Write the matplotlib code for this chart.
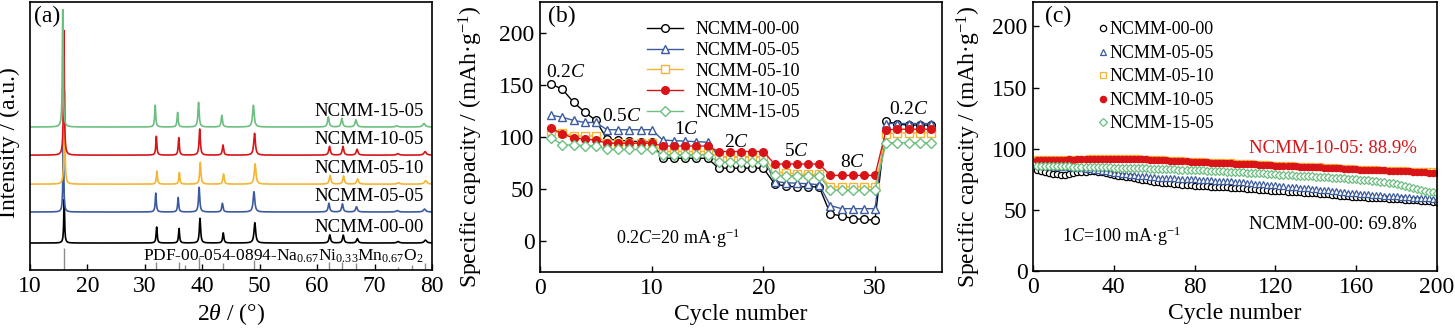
import matplotlib
matplotlib.use('Agg')
import matplotlib.pyplot as plt
import numpy as np

plt.rcParams['font.family'] = ['Liberation Serif', 'DejaVu Serif']
plt.rcParams['mathtext.fontset'] = 'custom'
plt.rcParams['mathtext.rm'] = 'Liberation Serif'
plt.rcParams['mathtext.it'] = 'Liberation Serif:italic'
plt.rcParams['mathtext.bf'] = 'Liberation Serif:bold'
plt.rcParams['axes.linewidth'] = 1.2

names = ['NCMM-00-00', 'NCMM-05-05', 'NCMM-05-10', 'NCMM-10-05', 'NCMM-15-05']
colors = ['#000000', '#3b5b9e', '#f5b533', '#d81418', '#6cbf80']
markers = ['o', '^', 's', 'o', 'D']
filled = [False, False, False, True, False]

# ---- (a) XRD: peak positions / heights
peak_pos = [15.95, 32.05, 35.95, 39.6, 43.65, 49.15, 62.2, 64.55, 67.0, 74.1, 78.85]
peak_width = [0.09, 0.11, 0.11, 0.13, 0.13, 0.17, 0.16, 0.16, 0.18, 0.25, 0.25]
xrd_heights = {
    'NCMM-00-00': [1.5, 0.55, 0.50, 0.85, 0.35, 0.70, 0.28, 0.27, 0.15, 0.05, 0.10],
    'NCMM-05-05': [2.3, 0.65, 0.50, 0.85, 0.30, 0.70, 0.30, 0.28, 0.18, 0.05, 0.10],
    'NCMM-05-10': [3.2, 0.45, 0.40, 0.75, 0.35, 0.70, 0.30, 0.28, 0.18, 0.05, 0.12],
    'NCMM-10-05': [4.3, 0.65, 0.60, 0.90, 0.35, 0.75, 0.30, 0.30, 0.20, 0.05, 0.12],
    'NCMM-15-05': [4.05, 0.75, 0.50, 0.85, 0.40, 0.75, 0.35, 0.30, 0.25, 0.04, 0.12],
}
xrd_shift = [0.0, -0.15, 0.05, -0.05, -0.25]
xrd_offset = [0.0, 1.07, 2.03, 3.03, 4.0]
pdf_pos = [15.9, 31.9, 35.9, 37.0, 39.5, 43.6, 49.0, 62.0, 64.4, 66.8, 74.1, 76.5, 78.8]
pdf_h = [0.76, 0.28, 0.28, 0.17, 0.45, 0.23, 0.34, 0.28, 0.28, 0.23, 0.12, 0.17, 0.23]

# ---- (b) rate performance
cycles_b = np.arange(1, 36)
rate = {
    'NCMM-00-00': [151, 146, 133.5, 124, 116, 98, 97, 96, 95.5, 95,
                   79.5, 79.5, 79.5, 79.5, 79.5, 70, 70, 70, 70, 70,
                   55, 52.5, 52, 52, 52, 26, 24, 21.5, 20.6, 20,
                   115, 112.5, 111.5, 111.5, 111.5],
    'NCMM-05-05': [121, 119, 116, 114, 114, 107, 107, 107, 107, 107,
                   97, 96.5, 96, 95.5, 95, 81, 81, 81, 81, 81,
                   57, 56, 55.5, 55, 54, 34, 31, 31, 31, 31,
                   113, 113, 113, 113, 113],
    'NCMM-05-10': [106, 103.5, 101, 101, 101, 94.5, 94.5, 94.5, 94.5, 94.5,
                   86, 86, 86, 86, 86, 81, 81, 81, 81, 81,
                   67, 65, 64.5, 64, 64, 52, 52, 52, 52, 52,
                   103, 104, 104, 104, 104],
    'NCMM-10-05': [108.5, 103, 99, 98, 97, 94, 94, 94, 94, 94,
                   91.3, 91.3, 91.3, 91.3, 91.3, 86, 86, 86, 86, 86,
                   74, 74, 74, 74, 74, 63, 63, 63, 63, 63,
                   107, 107.5, 107.5, 107.5, 107.5],
    'NCMM-15-05': [99.5, 92.5, 92, 91.8, 91.6, 88, 88, 88, 88, 88,
                   83, 83, 83, 83, 83, 76, 76, 76, 76, 76,
                   63, 62.7, 62.7, 62.7, 62.7, 49, 49, 49, 49, 49,
                   94.5, 94.5, 94.5, 94.5, 94.5],
}
rate_labels = ['0.2$C$', '0.5$C$', '1$C$', '2$C$', '5$C$', '8$C$', '0.2$C$']
rate_label_x = [2.3, 7.3, 13.1, 17.6, 23.0, 28.0, 33.0]
rate_label_y = [162, 120, 107, 95, 86, 75, 126]

# ---- (c) cycling at 1C (every 2nd cycle)
cycles_c = np.arange(2, 201, 2)
cyc = {
    'NCMM-00-00': [82.6, 81.9, 81.2, 80.4, 79.6, 79.0, 78.6, 78.4, 79.2, 80.3,
                   80.7, 81.0, 81.2, 81.6, 81.9, 81.3, 80.6, 79.8, 79.1, 78.4,
                   78.0, 77.5, 77.0, 76.5, 76.0, 75.4, 74.8, 74.2, 73.6, 73.0,
                   72.6, 72.3, 72.0, 71.6, 71.3, 71.0, 70.6, 70.3, 70.0, 69.7,
                   69.6, 69.4, 69.2, 69.1, 68.9, 68.7, 68.5, 68.4, 68.2, 68.0,
                   67.8, 67.5, 67.3, 67.0, 66.8, 66.6, 66.3, 66.1, 65.8, 65.6,
                   65.4, 65.2, 64.9, 64.7, 64.5, 64.3, 64.1, 63.8, 63.6, 63.4,
                   63.1, 62.8, 62.6, 62.3, 62.0, 61.7, 61.5, 61.2, 60.9, 60.7,
                   60.5, 60.3, 60.1, 59.9, 59.7, 59.6, 59.4, 59.2, 59.0, 58.8,
                   58.6, 58.4, 58.1, 57.9, 57.7, 57.5, 57.3, 57.1, 56.8, 56.6],
    'NCMM-05-05': [86.5, 86.2, 85.9, 85.6, 85.4, 85.2, 85.0, 84.9, 84.7, 84.6,
                   84.3, 83.9, 83.5, 83.1, 82.7, 82.3, 81.9, 81.4, 81.0, 80.5,
                   80.1, 79.7, 79.3, 78.9, 78.5, 78.1, 77.7, 77.3, 76.9, 76.5,
                   76.4, 76.2, 76.1, 75.9, 75.8, 75.6, 75.5, 75.3, 75.2, 75.0,
                   74.8, 74.6, 74.4, 74.2, 74.0, 73.8, 73.6, 73.4, 73.2, 73.0,
                   72.7, 72.4, 72.1, 71.8, 71.5, 71.2, 70.9, 70.6, 70.3, 70.0,
                   69.7, 69.4, 69.1, 68.8, 68.5, 68.2, 67.9, 67.6, 67.3, 67.0,
                   66.6, 66.3, 65.9, 65.5, 65.2, 64.8, 64.5, 64.1, 63.8, 63.4,
                   63.2, 62.9, 62.7, 62.4, 62.2, 61.9, 61.7, 61.4, 61.2, 61.0,
                   60.8, 60.6, 60.3, 60.1, 59.9, 59.7, 59.5, 59.3, 59.0, 58.8],
    'NCMM-05-10': [91.2, 91.3, 91.4, 91.3, 91.5, 91.6, 91.5, 91.7, 91.8, 91.7,
                   91.9, 92.0, 91.9, 92.1, 92.2, 92.1, 92.3, 92.4, 92.5, 92.6,
                   92.5, 92.4, 92.4, 92.2, 92.1, 92.1, 91.9, 91.8, 91.7, 91.5,
                   91.4, 91.2, 91.1, 90.9, 90.8, 90.6, 90.4, 90.2, 89.9, 89.7,
                   89.6, 89.8, 89.5, 89.3, 89.0, 89.2, 88.9, 88.7, 88.8, 88.5,
                   88.4, 88.2, 88.3, 88.0, 87.8, 87.6, 87.5, 87.2, 87.0, 86.8,
                   86.6, 86.5, 86.3, 86.4, 86.1, 85.9, 86.0, 85.7, 85.6, 85.4,
                   85.5, 85.2, 85.0, 84.9, 84.7, 84.6, 84.4, 84.2, 83.9, 83.8,
                   83.6, 83.5, 83.3, 83.4, 83.1, 82.9, 83.0, 82.7, 82.5, 82.6,
                   82.3, 82.2, 82.1, 82.0, 81.9, 81.8, 81.7, 81.6, 81.4, 81.2],
    'NCMM-10-05': [90.6, 90.7, 90.8, 90.7, 90.9, 91.0, 90.9, 91.1, 91.2, 91.1,
                   91.3, 91.4, 91.3, 91.5, 91.6, 91.5, 91.7, 91.8, 91.9, 92.0,
                   91.9, 91.8, 91.8, 91.6, 91.5, 91.5, 91.3, 91.2, 91.1, 90.9,
                   90.8, 90.6, 90.5, 90.3, 90.2, 90.0, 89.8, 89.6, 89.3, 89.1,
                   89.0, 89.2, 88.9, 88.7, 88.4, 88.6, 88.3, 88.1, 88.2, 87.9,
                   87.8, 87.6, 87.7, 87.4, 87.2, 87.0, 86.9, 86.6, 86.4, 86.2,
                   86.0, 85.9, 85.7, 85.8, 85.5, 85.3, 85.4, 85.1, 85.0, 84.8,
                   84.9, 84.6, 84.4, 84.3, 84.1, 84.0, 83.8, 83.6, 83.3, 83.2,
                   83.0, 82.9, 82.7, 82.8, 82.5, 82.3, 82.4, 82.1, 81.9, 82.0,
                   81.7, 81.5, 81.4, 81.2, 81.0, 80.8, 80.7, 80.5, 80.2, 80.0],
    'NCMM-15-05': [86.0, 85.9, 86.0, 85.8, 85.7, 85.8, 85.6, 85.5, 85.6, 85.4,
                   85.3, 85.4, 85.2, 85.1, 85.2, 85.0, 84.9, 84.8, 84.7, 84.6,
                   84.6, 84.5, 84.4, 84.4, 84.2, 84.1, 84.1, 83.9, 83.8, 83.8,
                   83.6, 83.5, 83.4, 83.3, 83.1, 83.0, 82.9, 82.7, 82.6, 82.4,
                   82.3, 82.2, 82.0, 81.9, 81.7, 81.6, 81.4, 81.3, 81.1, 81.0,
                   80.8, 80.7, 80.5, 80.3, 80.1, 80.0, 79.8, 79.6, 79.3, 79.0,
                   78.9, 78.7, 78.5, 78.3, 78.1, 77.9, 77.7, 77.6, 77.4, 77.2,
                   77.0, 76.8, 76.6, 76.4, 76.2, 76.0, 75.8, 75.5, 75.3, 75.0,
                   74.7, 74.4, 74.1, 73.8, 73.4, 73.0, 72.6, 72.2, 71.6, 71.0,
                   70.4, 69.7, 69.0, 68.2, 67.4, 66.6, 65.8, 65.0, 64.3, 63.7],
}

W, H = 1455, 331
fig = plt.figure(figsize=(W / 100, H / 100), dpi=100)
ax1 = fig.add_axes([30 / W, 61 / H, 402 / W, 268 / H])
ax2 = fig.add_axes([540 / W, 59 / H, 402 / W, 270 / H])
ax3 = fig.add_axes([1033 / W, 60 / H, 404 / W, 269 / H])

for ax in (ax1, ax2, ax3):
    ax.tick_params(direction='in', length=4, width=1.0, labelsize=17, pad=4)

# (a)
theta = np.linspace(10, 80, 14001)
ybot = -0.93
for i, n in enumerate(names):
    y = np.zeros_like(theta)
    for p, h, g in zip(peak_pos, xrd_heights[n], peak_width):
        p = p + xrd_shift[i]
        y += h * g ** 2 / ((theta - p) ** 2 + g ** 2)
    ax1.plot(theta, y + xrd_offset[i], color=colors[i], lw=1.2)
    ax1.text(78.5, xrd_offset[i] + 0.55, n, ha='right', va='center', fontsize=13.5)
ax1.vlines(pdf_pos, ybot, [ybot + h for h in pdf_h], color='#8c8c8c', lw=1.0)
ax1.text(78.5, -0.45, 'PDF-00-054-0894-Na$_{0.67}$Ni$_{0.33}$Mn$_{0.67}$O$_2$',
         ha='right', va='center', fontsize=12.5)
ax1.set_xlim(10, 80)
ax1.set_ylim(ybot, 8.31)
ax1.set_yticks([])
ax1.set_xticks(range(10, 81, 10))
ax1.set_xlabel(r'2$\theta$ / (°)', fontsize=17, labelpad=3)
ax1.set_ylabel('Intensity / (a.u.)', fontsize=17)
ax1.yaxis.set_label_coords(-0.025, 0.474)
ax1.text(0.01, 0.985, '(a)', transform=ax1.transAxes, ha='left', va='top', fontsize=17)

# (b)
for i, n in enumerate(names):
    ax2.plot(cycles_b, rate[n], color=colors[i], marker=markers[i], lw=1.0,
             ms=5.5 if markers[i] != 'D' else 5, mew=1.0,
             mfc=colors[i] if filled[i] else 'white', mec=colors[i], label=n)
for t, x, y in zip(rate_labels, rate_label_x, rate_label_y):
    ax2.text(x, y, t, ha='center', va='center', fontsize=14)
ax2.text(12.4, 2, '0.2$C$=20 mA·g$^{-1}$', ha='center', va='center', fontsize=13)
ax2.set_xlim(0, 36)
ax2.set_ylim(-30, 230)
ax2.set_xticks([0, 10, 20, 30])
ax2.set_yticks(range(0, 201, 50))
ax2.set_xlabel('Cycle number', fontsize=17, labelpad=4)
ax2.set_ylabel('Specific capacity / (mAh·g$^{-1}$)', fontsize=17)
ax2.yaxis.set_label_coords(-0.137, 0.463)
ax2.text(0.02, 0.985, '(b)', transform=ax2.transAxes, ha='left', va='top', fontsize=17)
ax2.legend(loc='upper left', bbox_to_anchor=(0.235, 0.975), frameon=False, fontsize=13,
           handlelength=2.0, handletextpad=0.7, labelspacing=0.2, borderpad=0.2)

# (c)
for i, n in enumerate(names):
    ax3.plot(cycles_c, cyc[n], ls='none', marker=markers[i],
             ms=4.5 if markers[i] != 'D' else 4, mew=0.9,
             mfc=colors[i] if filled[i] else 'white', mec=colors[i], color=colors[i], label=n)
ax3.text(148.5, 100, 'NCMM-10-05: 88.9%', color='#d81418', ha='center', va='center', fontsize=13.5)
ax3.text(148.5, 38, 'NCMM-00-00: 69.8%', color='black', ha='center', va='center', fontsize=13.5)
ax3.text(44, 28, '1$C$=100 mA·g$^{-1}$', ha='center', va='center', fontsize=13)
ax3.set_xlim(0, 200)
ax3.set_ylim(0, 220)
ax3.set_xticks(range(0, 201, 40))
ax3.set_yticks(range(0, 201, 50))
ax3.set_xlabel('Cycle number', fontsize=17, labelpad=4)
ax3.set_ylabel('Specific capacity / (mAh·g$^{-1}$)', fontsize=17)
ax3.yaxis.set_label_coords(-0.124, 0.463)
ax3.text(0.03, 0.985, '(c)', transform=ax3.transAxes, ha='left', va='top', fontsize=17)
ax3.legend(loc='upper left', bbox_to_anchor=(0.13, 0.975), frameon=False, fontsize=13,
           handlelength=0.5, handletextpad=0.15, labelspacing=0.36, borderpad=0.2)

fig.savefig('out.png', dpi=100)
